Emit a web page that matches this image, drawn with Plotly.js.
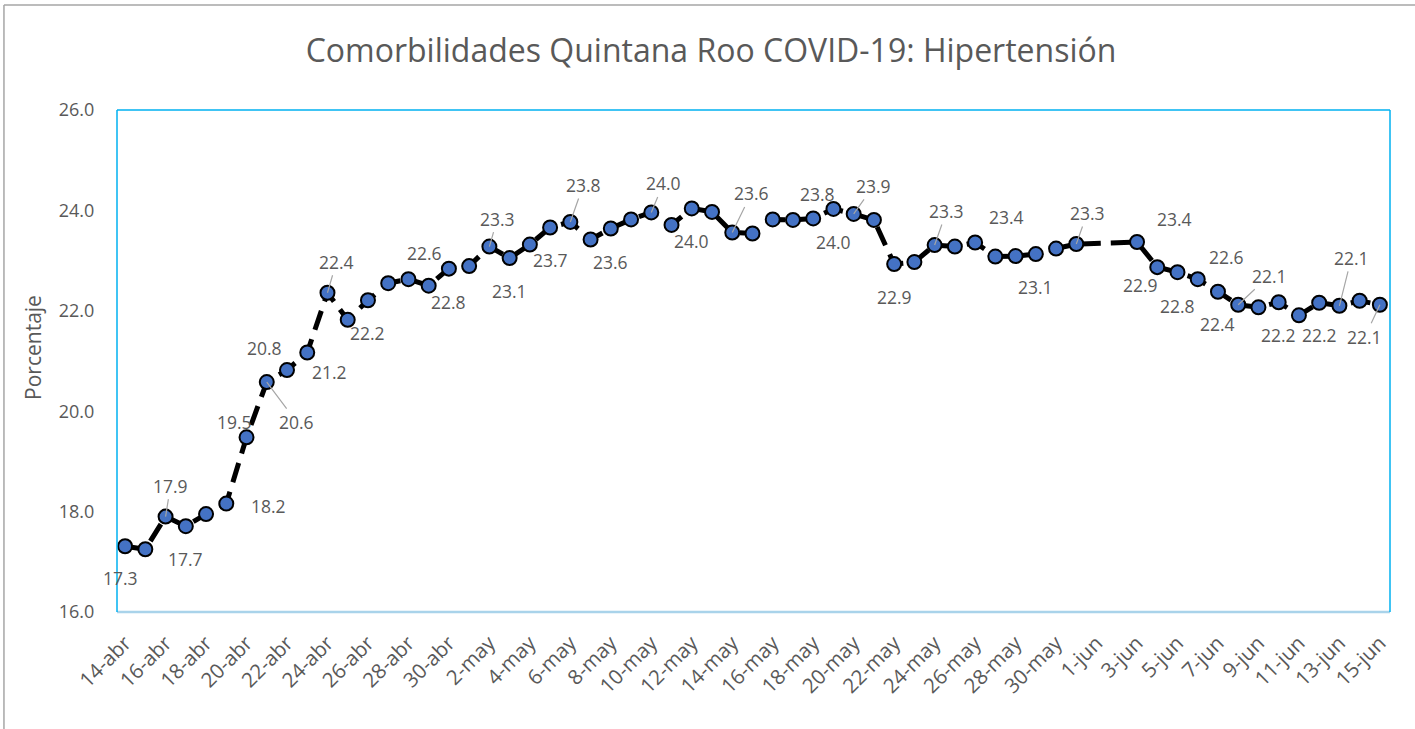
<!DOCTYPE html>
<html>
<head>
<meta charset="utf-8">
<script src="https://cdn.plot.ly/plotly-3.0.1.min.js"></script>
<style>html,body{margin:0;padding:0;background:#fff;}#chart{width:1415px;height:729px;}</style>
</head>
<body>
<div id="chart"></div>
<script>
// ---- data ----
const dates = [
  '14-abr','15-abr','16-abr','17-abr','18-abr','19-abr','20-abr','21-abr','22-abr','23-abr',
  '24-abr','25-abr','26-abr','27-abr','28-abr','29-abr','30-abr',
  '1-may','2-may','3-may','4-may','5-may','6-may','7-may','8-may','9-may','10-may',
  '11-may','12-may','13-may','14-may','15-may','16-may','17-may','18-may','19-may','20-may',
  '21-may','22-may','23-may','24-may','25-may','26-may','27-may','28-may','29-may','30-may','31-may',
  '1-jun','2-jun','3-jun','4-jun','5-jun','6-jun','7-jun','8-jun','9-jun','10-jun',
  '11-jun','12-jun','13-jun','14-jun','15-jun'
];
const hipertension = [
  17.31, 17.25, 17.90, 17.71, 17.95, 18.16, 19.48, 20.58, 20.82, 21.17,
  22.36, 21.82, 22.21, 22.55, 22.63, 22.50, 22.84,
  22.89, 23.28, 23.05, 23.32, 23.66, 23.77, 23.42, 23.64, 23.82, 23.96,
  23.71, 24.04, 23.97, 23.56, 23.54, 23.82, 23.81, 23.84, 24.03, 23.93,
  23.81, 22.93, 22.97, 23.31, 23.28, 23.36, 23.08, 23.09, 23.13, 23.24, 23.33,
  null, null, 23.37, 22.87, 22.77, 22.63, 22.38, 22.12, 22.07, 22.17,
  21.91, 22.16, 22.10, 22.20, 22.12
];
// indices of points that carry a data label
const labeledPoints = [0,2,3,5,6,7,8,9,10,12,14,16,18,19,21,22,24,26,28,30,34,35,36,38,40,42,45,47,50,51,52,53,54,55,57,59,60,62];

// ---- label placement (layout only): [dx, dy, leaderLine] ----
const labelPlacement = [
  [-5,32,0],[5,-31,1],[0,33,0],[42,2,0],[-12,-15,0],[30,40,1],[-23,-22,0],[22,20,0],[9,-31,1],[0,33,0],
  [16,-26,0],[0,33,0],[8,-28,1],[0,33,0],[0,33,0],[13,-37,1],[0,34,0],[12,-29,1],[0,33,0],[19,-39,1],
  [4,-24,0],[0,33,0],[20,-28,1],[0,33,0],[12,-34,1],[31,-26,0],[0,33,0],[11,-31,1],[37,-23,0],[-17,18,0],
  [0,34,0],[29,-22,0],[0,32,0],[31,-29,1],[0,33,0],[0,32,0],[12,-48,1],[-15,32,1]
];

const FONT = 'Open Sans, Noto Sans, sans-serif';
const GREY = '#595959';

const annotations = labeledPoints.map((i, k) => {
  const p = labelPlacement[k];
  return {
    x: dates[i], y: hipertension[i], xref: 'x', yref: 'y',
    text: hipertension[i].toFixed(1),
    showarrow: true, arrowhead: 0, arrowwidth: 1.2, standoff: 0, startstandoff: 0,
    arrowcolor: p[2] ? '#A6A6A6' : 'rgba(0,0,0,0)',
    ax: p[0], ay: p[1],
    font: {family: FONT, size: 17.5, color: GREY}
  };
});
annotations.push({
  xref: 'paper', yref: 'paper', x: -0.04, y: 1.214, xanchor: 'left', yanchor: 'bottom',
  text: '<b>Gráfico 4.</b>', showarrow: false,
  font: {family: FONT, size: 18, color: '#000'}
});
annotations.push({
  xref: 'paper', yref: 'paper', x: -0.066, y: 0.528, xanchor: 'center', yanchor: 'middle',
  text: 'Porcentaje', textangle: -90, showarrow: false,
  font: {family: FONT, size: 21, color: GREY}
});

const trace = {
  type: 'scatter', mode: 'lines+markers',
  x: dates, y: hipertension, connectgaps: true,
  line: {color: '#000000', width: 5, dash: '20px,10px'},
  marker: {color: '#4472C4', size: 14, line: {color: '#000000', width: 2}},
  hoverinfo: 'x+y'
};

const layout = {
  width: 1415, height: 729,
  margin: {l: 117, r: 25, t: 110, b: 117},
  paper_bgcolor: '#ffffff', plot_bgcolor: '#ffffff',
  showlegend: false,
  title: {
    text: 'Comorbilidades Quintana Roo COVID-19: Hipertensión',
    font: {family: FONT, size: 32, color: GREY},
    x: 0.5025, xanchor: 'center', xref: 'container', y: 0.931, yanchor: 'middle'
  },
  xaxis: {
    type: 'category', range: [-0.4, 62.5],
    tickvals: dates.filter((d, i) => i % 2 === 0),
    tickangle: -45, showgrid: false, zeroline: false, showline: false,
    ticks: 'outside', ticklen: 10, tickcolor: 'rgba(0,0,0,0)',
    tickfont: {family: FONT, size: 20.5, color: GREY}
  },
  yaxis: {
    range: [16, 26], dtick: 2, tick0: 16, tickformat: '.1f',
    showgrid: false, zeroline: false, showline: false,
    ticks: 'outside', ticklen: 18, tickcolor: 'rgba(0,0,0,0)',
    tickfont: {family: FONT, size: 18, color: GREY}
  },
  annotations: annotations,
  shapes: [
    {type: 'line', xref: 'paper', yref: 'paper', x0: -0.0888, x1: -0.0888, y0: 1.209, y1: -0.3, line: {color: '#A6A6A6', width: 1.5}},
    {type: 'line', xref: 'paper', yref: 'paper', x0: -0.0888, x1: 1.05, y0: 1.209, y1: 1.209, line: {color: '#A6A6A6', width: 1.5}},
    {type: 'line', xref: 'paper', yref: 'paper', x0: 0, x1: 1, y0: 0, y1: 0, line: {color: '#A9D3EA', width: 2.5}},
    {type: 'line', xref: 'paper', yref: 'paper', x0: 0, x1: 0, y0: 0, y1: 1, line: {color: '#00B0F0', width: 1.5}},
    {type: 'line', xref: 'paper', yref: 'paper', x0: 0, x1: 1, y0: 1, y1: 1, line: {color: '#00B0F0', width: 1.5}},
    {type: 'line', xref: 'paper', yref: 'paper', x0: 1, x1: 1, y0: 0, y1: 1, line: {color: '#00B0F0', width: 1.5}}
  ]
};

Plotly.newPlot('chart', [trace], layout, {displayModeBar: false, staticPlot: true});
</script>
</body>
</html>
